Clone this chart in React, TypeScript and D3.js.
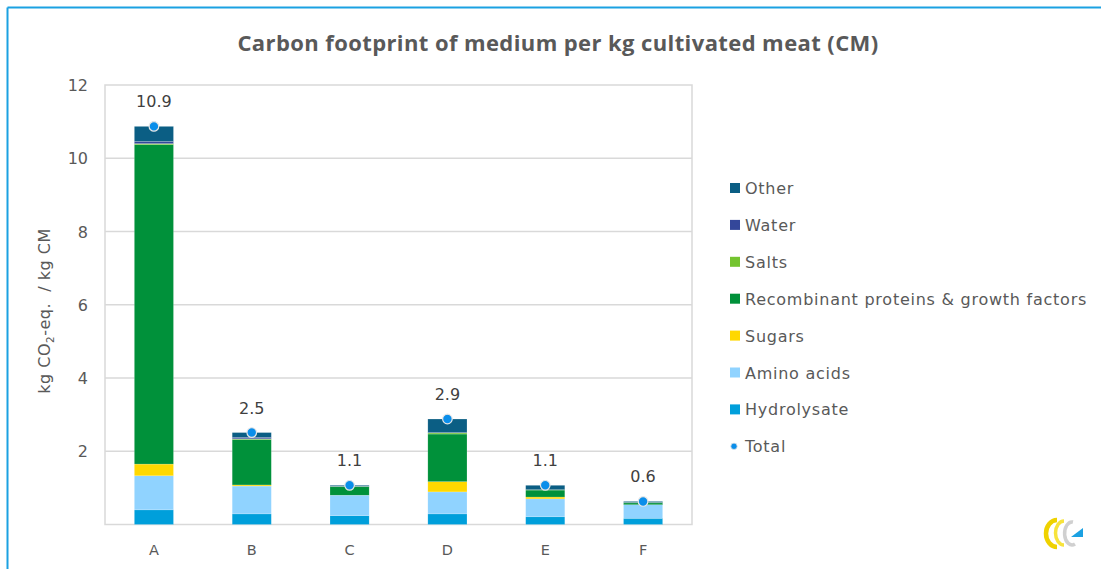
import React from "react";
import * as d3 from "d3";

const categories = ["A", "B", "C", "D", "E", "F"];
const hydrolysate = [0.4, 0.29, 0.24, 0.29, 0.21, 0.17];
const aminoAcids = [0.93, 0.76, 0.56, 0.6, 0.49, 0.37];
const sugars = [0.32, 0.03, 0.0, 0.28, 0.05, 0.0];
const recombinant = [8.72, 1.24, 0.23, 1.3, 0.19, 0.05];
const salts = [0.03, 0.02, 0.01, 0.03, 0.01, 0.01];
const water = [0.06, 0.04, 0.0, 0.01, 0.0, 0.0];
const other = [0.41, 0.13, 0.03, 0.37, 0.12, 0.03];
const yTicks = [2, 4, 6, 8, 10, 12];

const seriesNames = [
  "Hydrolysate",
  "Amino acids",
  "Sugars",
  "Recombinant proteins & growth factors",
  "Salts",
  "Water",
  "Other",
];
const seriesValues = [hydrolysate, aminoAcids, sugars, recombinant, salts, water, other];
const seriesColors = ["#009FDB", "#90D3FF", "#FFD800", "#00913A", "#74C42F", "#34479A", "#0B5E84"];

const W = 1101;
const H = 569;
const plot = { left: 105, right: 692, top: 85, bottom: 524.5 };
const textColor = "#595959";
const font = "'DejaVu Sans', Verdana, sans-serif";

export default function App() {
  const x = d3
    .scaleBand<string>()
    .domain(categories)
    .range([plot.left, plot.right])
    .paddingInner(0.6)
    .paddingOuter(0.3);
  const y = d3.scaleLinear().domain([0, 12]).range([plot.bottom, plot.top]);

  const rows = categories.map((c, i) => {
    const r: any = { cat: c };
    seriesNames.forEach((n, k) => (r[n] = seriesValues[k][i]));
    return r;
  });
  const stacked = d3.stack().keys(seriesNames)(rows);
  const totals = categories.map((_, i) => d3.sum(seriesValues, (s) => s[i]));

  const legendOrder = [...seriesNames].reverse();
  const legendColors = [...seriesColors].reverse();
  const legendX = 730;
  const legendY0 = 188;
  const legendStep = 36.9;

  return (
    <svg
      width={W}
      height={H}
      style={{ position: "absolute", left: 0, top: 0, background: "#fff" }}
      fontFamily={font}
    >
      {/* frame */}
      <line x1={7.5} y1={7.5} x2={W} y2={7.5} stroke="#1BA1E2" strokeWidth={2} />
      <line x1={7.5} y1={7.5} x2={7.5} y2={H} stroke="#1BA1E2" strokeWidth={2} />

      {/* title */}
      <text
        x={558}
        y={51}
        textAnchor="middle"
        fontFamily="'Open Sans', sans-serif"
        fontWeight={700}
        fontSize={22}
        letterSpacing={0.4}
        fill={textColor}
      >
        Carbon footprint of medium per kg cultivated meat (CM)
      </text>

      {/* gridlines */}
      {yTicks.slice(0, -1).map((t) => (
        <line key={t} x1={plot.left} x2={plot.right} y1={y(t)} y2={y(t)} stroke="#D9D9D9" strokeWidth={1.5} />
      ))}
      <rect
        x={plot.left}
        y={plot.top}
        width={plot.right - plot.left}
        height={plot.bottom - plot.top}
        fill="none"
        stroke="#D9D9D9"
        strokeWidth={1.5}
      />

      {/* y tick labels */}
      {yTicks.map((t) => (
        <text key={t} x={88} y={y(t) + 6} textAnchor="end" fontSize={16} fill={textColor}>
          {t}
        </text>
      ))}

      {/* y axis title */}
      <text
        transform="translate(50,311) rotate(-90)"
        textAnchor="middle"
        fontSize={16}
        letterSpacing={0.5}
        fill={textColor}
      >
        kg CO
        <tspan fontSize={10.5} dy={4}>2</tspan>
        <tspan dy={-4}>{"-eq.\u00A0\u00A0/ kg CM"}</tspan>
      </text>

      {/* bars */}
      {stacked.map((layer, k) => (
        <g key={layer.key} fill={seriesColors[k]}>
          {layer.map((d, i) => {
            const h = y(d[0]) - y(d[1]);
            if (h <= 0) return null;
            return (
              <rect
                key={i}
                x={x(categories[i])}
                y={y(d[1])}
                width={x.bandwidth()}
                height={h}
                stroke="#ffffff"
                strokeOpacity={0.35}
                strokeWidth={0.5}
              />
            );
          })}
        </g>
      ))}

      {/* totals */}
      {totals.map((t, i) => {
        const cx = (x(categories[i]) as number) + x.bandwidth() / 2;
        return (
          <g key={i}>
            <circle cx={cx} cy={y(t)} r={4.8} fill="#0A8EEA" stroke="#E6E6E6" strokeWidth={1.2} />
            <text x={cx} y={y(t) - 19} textAnchor="middle" fontSize={16} fill="#404040">
              {t.toFixed(1)}
            </text>
          </g>
        );
      })}

      {/* x labels */}
      {categories.map((c) => (
        <text
          key={c}
          x={(x(c) as number) + x.bandwidth() / 2}
          y={555}
          textAnchor="middle"
          fontSize={14.5}
          fill={textColor}
        >
          {c}
        </text>
      ))}

      {/* legend */}
      {legendOrder.map((n, k) => {
        const cy = legendY0 + k * legendStep;
        return (
          <g key={n}>
            <rect x={legendX} y={cy - 5} width={10} height={10} fill={legendColors[k]} />
            <text x={legendX + 15} y={cy + 6} fontSize={16} fill={textColor} letterSpacing={0.75}>
              {n}
            </text>
          </g>
        );
      })}
      <g>
        <circle cx={legendX + 4} cy={legendY0 + 7 * legendStep} r={3.2} fill="#0A8EEA" stroke="#E6E6E6" strokeWidth={0.8} />
        <text x={legendX + 15} y={legendY0 + 7 * legendStep + 6} fontSize={16} fill={textColor} letterSpacing={0.75}>
          Total
        </text>
      </g>

      {/* logo */}
      <g fill="none">
        <path d="M1057,520 A11,13.5 0 1,0 1057,547" stroke="#EFD200" strokeWidth={4.5} />
        <path d="M1064,521 A8.5,12 0 1,0 1064,545" stroke="#F7E33C" strokeWidth={3.5} />
        <path d="M1073,522 A7.5,11.5 0 1,0 1075,544" stroke="#D0D0D0" strokeWidth={3.5} />
      </g>
      <polygon points="1071,537 1083,537 1083,528" fill="#1BA1E2" />
    </svg>
  );
}
